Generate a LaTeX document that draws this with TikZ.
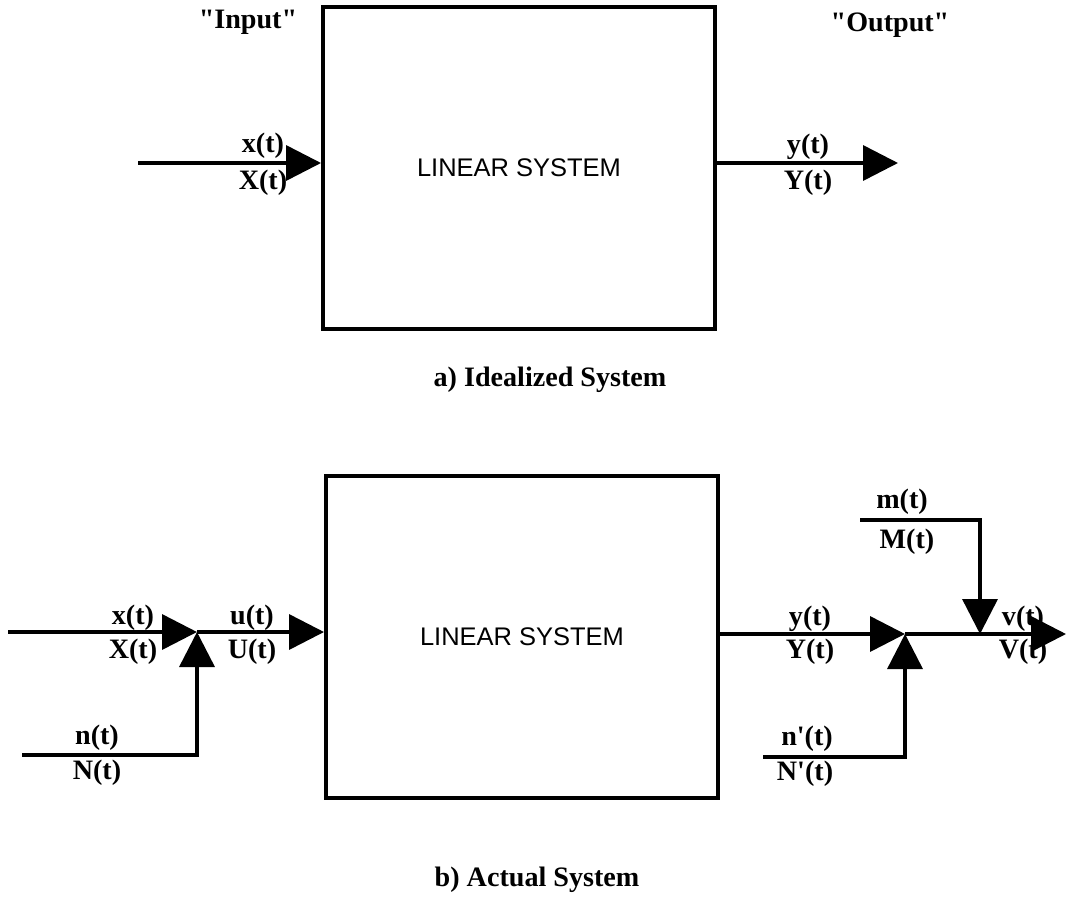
\documentclass[tikz,border=0pt]{standalone}
\usepackage{fontspec}
\setmainfont{Liberation Serif}
\setsansfont{Liberation Sans}
\usetikzlibrary{arrows.meta}

\tikzset{
  sysbox/.style={draw,line width=2.3pt,minimum width=7.84cm,minimum height=6.44cm,
    font=\sffamily\fontsize{14.5}{16}\selectfont},
  sig/.style={line width=2pt},
  sigarrow/.style={sig,-{Triangle[length=7mm,width=7mm]}},
  lbl/.style={font=\bfseries\fontsize{16}{18}\selectfont,inner sep=0pt},
  captext/.style={font=\bfseries\fontsize{16}{18}\selectfont,inner sep=0pt},
}

\begin{document}
\begin{tikzpicture}[x=0.02cm,y=-0.02cm]
    \useasboundingbox (0,0) rectangle (1067,916);
    % a) idealized system
    \node[sysbox] (ibox) at (519,168) {LINEAR SYSTEM};
    \coordinate (xin) at (138,163);
    \coordinate (yout) at (898,163);
    \draw[sigarrow] (xin) -- (xin -| ibox.west);
    \draw[sigarrow] (ibox.east |- yout) -- (yout);
    \node[captext] (inp) at (248,22) {\textquotedbl Input\textquotedbl};
    \node[captext] (outp) at (890,25) {\textquotedbl Output\textquotedbl};
    \node[lbl] (xa) at (263,146) {x(t)};
    \node[lbl] (Xa) at (263,183) {X(t)};
    \node[lbl] (ya) at (808,147) {y(t)};
    \node[lbl] (Ya) at (808,183) {Y(t)};
    \node[captext] (capa) at (550,380) {a) Idealized System};
    % b) actual system
    \node[sysbox] (abox) at (522,637) {LINEAR SYSTEM};
    \coordinate (ain) at (8,632);
    \coordinate (sumu) at (197,632);
    \coordinate (nin) at (22,755);
    \coordinate (sumy) at (905,634);
    \coordinate (sumv) at (980,634);
    \coordinate (vout) at (1066,634);
    \coordinate (npin) at (763,757);
    \coordinate (min) at (860,520);
    \draw[sigarrow] (ain) -- (sumu);
    \draw[sigarrow] (sumu) -- (sumu -| abox.west);
    \draw[sigarrow] (nin) -| (sumu);
    \draw[sigarrow] (abox.east |- sumy) -- (sumy);
    \draw[sigarrow] (sumy) -- (vout);
    \draw[sigarrow] (npin) -| (sumy);
    \draw[sigarrow] (min) -| (sumv);
    \node[lbl] (xb) at (133,618) {x(t)};
    \node[lbl] (Xb) at (133,652) {X(t)};
    \node[lbl] (ub) at (252,618) {u(t)};
    \node[lbl] (Ub) at (252,652) {U(t)};
    \node[lbl] (nb) at (97,738) {n(t)};
    \node[lbl] (Nb) at (97,773) {N(t)};
    \node[lbl] (yb) at (810,619) {y(t)};
    \node[lbl] (Yb) at (810,652) {Y(t)};
    \node[lbl] (npb) at (807,739) {n\textquotesingle(t)};
    \node[lbl] (Npb) at (805,774) {N\textquotesingle(t)};
    \node[lbl] (mb) at (902,502) {m(t)};
    \node[lbl] (Mb) at (907,542) {M(t)};
    \node[lbl] (vb) at (1023,619) {v(t)};
    \node[lbl] (Vb) at (1023,652) {V(t)};
    \node[captext] (capb) at (537,880) {b) Actual System};
  \end{tikzpicture}
\end{document}
